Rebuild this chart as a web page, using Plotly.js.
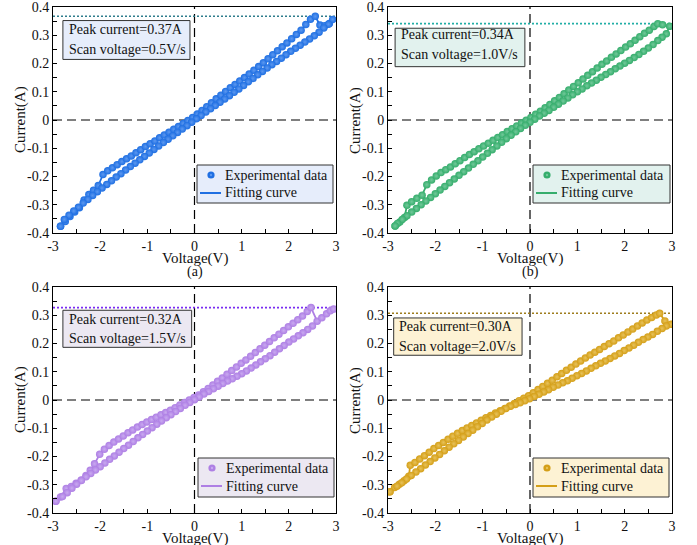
<!DOCTYPE html>
<html>
<head>
<meta charset="utf-8">
<script src="https://cdn.plot.ly/plotly-3.0.1.min.js"></script>
<style>
  html, body { margin: 0; padding: 0; background: #ffffff; }
  #chart { width: 697px; height: 545px; }
</style>
</head>
<body>
<div id="chart"></div>
<script>
// ---- Cyclic I-V sweeps at four scan rates ----

// (a) 0.5 V/s : forward branch (upper) then return branch (lower)
const voltA_fwd = [-2.84,-2.74,-2.64,-2.54,-2.44,-2.34,-2.24,-2.14,-2.04,-1.94,-1.84,-1.74,-1.64,-1.54,-1.44,-1.34,-1.24,-1.14,-1.04,-0.94,-0.84,-0.74,-0.64,-0.54,-0.44,-0.34,-0.24,-0.14,-0.04,0.06,0.16,0.26,0.36,0.46,0.56,0.66,0.76,0.86,0.96,1.06,1.16,1.26,1.36,1.46,1.56,1.66,1.76,1.86,1.96,2.06,2.16,2.26,2.36,2.46,2.56,2.66,2.76,2.86,2.93];
const currA_fwd = [-0.376,-0.359,-0.342,-0.326,-0.311,-0.283,-0.264,-0.249,-0.232,-0.193,-0.180,-0.169,-0.158,-0.147,-0.137,-0.127,-0.116,-0.105,-0.094,-0.084,-0.074,-0.063,-0.053,-0.043,-0.033,-0.023,-0.012,-0.002,0.009,0.021,0.034,0.047,0.061,0.075,0.088,0.101,0.114,0.126,0.138,0.150,0.163,0.176,0.189,0.203,0.217,0.231,0.245,0.259,0.273,0.288,0.303,0.318,0.338,0.357,0.367,0.336,0.334,0.342,0.356];
const voltA_rev = [2.84,2.74,2.64,2.54,2.44,2.34,2.24,2.14,2.04,1.94,1.84,1.74,1.64,1.54,1.44,1.34,1.24,1.14,1.04,0.94,0.84,0.74,0.64,0.54,0.44,0.34,0.24,0.14,0.04,-0.06,-0.16,-0.26,-0.36,-0.46,-0.56,-0.66,-0.76,-0.86,-0.96,-1.06,-1.16,-1.26,-1.36,-1.46,-1.56,-1.66,-1.76,-1.86,-1.96,-2.06,-2.16,-2.26,-2.36,-2.46,-2.56,-2.66,-2.76,-2.84];
const currA_rev = [0.339,0.326,0.311,0.298,0.287,0.276,0.265,0.254,0.243,0.231,0.219,0.207,0.196,0.184,0.172,0.160,0.147,0.135,0.122,0.110,0.098,0.086,0.074,0.063,0.051,0.040,0.028,0.016,0.004,-0.008,-0.020,-0.032,-0.044,-0.056,-0.068,-0.080,-0.092,-0.104,-0.117,-0.129,-0.141,-0.153,-0.165,-0.177,-0.190,-0.202,-0.215,-0.228,-0.241,-0.254,-0.267,-0.281,-0.294,-0.309,-0.322,-0.337,-0.352,-0.376];

// (b) 1.0 V/s
const voltB_fwd = [-2.85,-2.75,-2.65,-2.60,-2.50,-2.39,-2.28,-2.18,-2.08,-1.98,-1.88,-1.78,-1.68,-1.58,-1.48,-1.38,-1.28,-1.18,-1.08,-0.98,-0.88,-0.78,-0.68,-0.58,-0.48,-0.38,-0.28,-0.18,-0.08,0.02,0.12,0.22,0.32,0.42,0.52,0.62,0.72,0.82,0.92,1.02,1.12,1.22,1.32,1.42,1.52,1.62,1.72,1.82,1.92,2.02,2.12,2.22,2.32,2.42,2.52,2.62,2.70,2.80,2.95];
const currB_fwd = [-0.375,-0.361,-0.345,-0.302,-0.289,-0.277,-0.266,-0.229,-0.212,-0.198,-0.186,-0.176,-0.166,-0.155,-0.144,-0.133,-0.122,-0.112,-0.102,-0.092,-0.082,-0.072,-0.062,-0.052,-0.041,-0.031,-0.021,-0.011,-0.001,0.009,0.020,0.031,0.043,0.055,0.068,0.080,0.093,0.106,0.119,0.132,0.145,0.158,0.171,0.184,0.197,0.209,0.222,0.234,0.246,0.258,0.270,0.282,0.295,0.307,0.318,0.331,0.341,0.337,0.332];
const voltB_rev = [2.88,2.79,2.70,2.60,2.50,2.40,2.30,2.20,2.10,2.00,1.90,1.80,1.70,1.60,1.50,1.40,1.30,1.20,1.10,1.00,0.90,0.80,0.70,0.60,0.50,0.40,0.30,0.20,0.10,0.00,-0.10,-0.20,-0.30,-0.40,-0.50,-0.60,-0.70,-0.80,-0.90,-1.00,-1.10,-1.20,-1.30,-1.40,-1.50,-1.60,-1.70,-1.80,-1.90,-2.00,-2.10,-2.20,-2.30,-2.40,-2.50,-2.60,-2.70,-2.80,-2.85];
const currB_rev = [0.305,0.293,0.281,0.267,0.255,0.243,0.232,0.221,0.211,0.201,0.191,0.181,0.171,0.161,0.151,0.141,0.131,0.121,0.110,0.100,0.089,0.078,0.067,0.056,0.045,0.034,0.024,0.014,0.003,-0.008,-0.019,-0.030,-0.042,-0.054,-0.066,-0.079,-0.092,-0.105,-0.118,-0.131,-0.144,-0.157,-0.170,-0.183,-0.196,-0.209,-0.222,-0.235,-0.248,-0.261,-0.274,-0.287,-0.300,-0.313,-0.326,-0.339,-0.352,-0.366,-0.375];

// (c) 1.5 V/s
const voltC_fwd = [-2.94,-2.84,-2.72,-2.61,-2.51,-2.40,-2.30,-2.21,-2.12,-2.01,-1.91,-1.81,-1.71,-1.61,-1.51,-1.41,-1.31,-1.21,-1.11,-1.01,-0.91,-0.81,-0.71,-0.61,-0.51,-0.41,-0.31,-0.21,-0.11,-0.01,0.09,0.19,0.29,0.39,0.49,0.59,0.69,0.79,0.89,0.99,1.09,1.19,1.29,1.39,1.49,1.59,1.69,1.79,1.89,1.99,2.09,2.19,2.29,2.39,2.47,2.60,2.70,2.80,2.88,2.95];
const currC_fwd = [-0.358,-0.343,-0.313,-0.306,-0.295,-0.283,-0.267,-0.249,-0.226,-0.192,-0.174,-0.161,-0.149,-0.138,-0.127,-0.116,-0.106,-0.096,-0.087,-0.078,-0.069,-0.061,-0.052,-0.044,-0.036,-0.027,-0.018,-0.009,0.000,0.009,0.018,0.029,0.041,0.053,0.066,0.078,0.091,0.104,0.117,0.130,0.142,0.155,0.168,0.181,0.194,0.207,0.220,0.233,0.246,0.259,0.272,0.284,0.297,0.313,0.327,0.279,0.291,0.305,0.316,0.322];
const voltC_rev = [2.50,2.40,2.30,2.20,2.10,2.00,1.90,1.80,1.70,1.60,1.50,1.40,1.30,1.20,1.10,1.00,0.90,0.80,0.70,0.60,0.50,0.40,0.30,0.20,0.10,0.00,-0.10,-0.20,-0.30,-0.40,-0.50,-0.60,-0.70,-0.80,-0.90,-1.00,-1.10,-1.20,-1.30,-1.40,-1.50,-1.60,-1.70,-1.80,-1.90,-2.00,-2.10,-2.20,-2.30,-2.40,-2.50,-2.60,-2.70,-2.80,-2.94];
const currC_rev = [0.262,0.250,0.238,0.227,0.216,0.205,0.193,0.181,0.169,0.157,0.146,0.135,0.124,0.113,0.103,0.093,0.084,0.075,0.067,0.058,0.049,0.040,0.030,0.021,0.011,0.001,-0.009,-0.019,-0.030,-0.041,-0.052,-0.063,-0.074,-0.086,-0.098,-0.110,-0.122,-0.134,-0.147,-0.160,-0.172,-0.185,-0.198,-0.210,-0.223,-0.236,-0.248,-0.260,-0.272,-0.285,-0.298,-0.312,-0.328,-0.342,-0.358];

// (d) 2.0 V/s
const voltD_fwd = [-2.96,-2.86,-2.76,-2.66,-2.56,-2.53,-2.43,-2.33,-2.23,-2.13,-2.03,-1.93,-1.83,-1.73,-1.63,-1.53,-1.43,-1.33,-1.23,-1.13,-1.03,-0.93,-0.83,-0.73,-0.63,-0.53,-0.43,-0.33,-0.23,-0.13,-0.03,0.07,0.17,0.27,0.37,0.47,0.57,0.67,0.77,0.87,0.97,1.07,1.17,1.27,1.37,1.47,1.57,1.67,1.77,1.87,1.97,2.07,2.17,2.27,2.37,2.47,2.57,2.67,2.74,2.85,2.98];
const currD_fwd = [-0.325,-0.310,-0.298,-0.286,-0.270,-0.231,-0.221,-0.209,-0.197,-0.185,-0.172,-0.161,-0.150,-0.139,-0.128,-0.118,-0.108,-0.099,-0.090,-0.081,-0.072,-0.063,-0.055,-0.046,-0.038,-0.030,-0.021,-0.012,-0.003,0.006,0.015,0.026,0.037,0.048,0.059,0.070,0.082,0.094,0.105,0.116,0.127,0.138,0.149,0.159,0.169,0.179,0.189,0.199,0.209,0.220,0.230,0.241,0.251,0.262,0.273,0.283,0.292,0.301,0.307,0.280,0.268];
const voltD_rev = [2.88,2.79,2.69,2.59,2.49,2.39,2.29,2.19,2.09,1.99,1.89,1.79,1.69,1.59,1.49,1.39,1.29,1.19,1.09,0.99,0.89,0.79,0.69,0.59,0.49,0.39,0.29,0.19,0.09,-0.01,-0.11,-0.21,-0.31,-0.41,-0.51,-0.61,-0.71,-0.81,-0.91,-1.01,-1.11,-1.21,-1.31,-1.41,-1.51,-1.61,-1.71,-1.81,-1.91,-2.01,-2.11,-2.21,-2.31,-2.41,-2.51,-2.61,-2.71,-2.81,-2.96];
const currD_rev = [0.262,0.253,0.243,0.232,0.223,0.214,0.204,0.194,0.184,0.175,0.165,0.156,0.147,0.138,0.130,0.121,0.112,0.103,0.094,0.086,0.077,0.068,0.061,0.053,0.045,0.036,0.028,0.020,0.012,0.004,-0.003,-0.010,-0.016,-0.022,-0.030,-0.040,-0.050,-0.060,-0.071,-0.083,-0.095,-0.107,-0.119,-0.131,-0.143,-0.155,-0.167,-0.180,-0.193,-0.205,-0.218,-0.230,-0.243,-0.255,-0.267,-0.280,-0.293,-0.305,-0.325];

// labels
const peakLabels = ['Peak current=0.37A', 'Peak current=0.34A', 'Peak current=0.32A', 'Peak current=0.30A'];
const scanLabels = ['Scan voltage=0.5V/s', 'Scan voltage=1.0V/s', 'Scan voltage=1.5V/s', 'Scan voltage=2.0V/s'];
const seriesNames = ['Experimental data', 'Fitting curve'];
const panelTags = ['(a)', '(b)'];
const xTitle = 'Voltage(V)';
const yTitle = 'Current(A)';
const xTickVals = [-3, -2, -1, 0, 1, 2, 3];
const xTickText = ['-3', '-2', '-1', '0', '1', '2', '3'];
const yTickVals = [-0.4, -0.3, -0.2, -0.1, 0, 0.1, 0.2, 0.3, 0.4];
const yTickText = ['-0.4', '-0.3', '-0.2', '-0.1', '0', '0.1', '0.2', '0.3', '0.4'];

// ---- styling ----
const FONT = 'Liberation Serif, Times New Roman, serif';
const INK = '#111111';
const W = 697, H = 545;
const sweeps = [
  [voltA_fwd, currA_fwd, voltA_rev, currA_rev],
  [voltB_fwd, currB_fwd, voltB_rev, currB_rev],
  [voltC_fwd, currC_fwd, voltC_rev, currC_rev],
  [voltD_fwd, currD_fwd, voltD_rev, currD_rev]
];
const style = [
  { main: '#1f6fe2', glow: '#5c98f0', peak: '#2e7d8c', fill: '#e6edfb' },
  { main: '#35ad6c', glow: '#72c99a', peak: '#22aea6', fill: '#e2f2ee' },
  { main: '#ae7fe4', glow: '#c9a9f0', peak: '#7a2cf2', fill: '#ece8f2' },
  { main: '#d49f18', glow: '#e8c25a', peak: '#9e7d1d', fill: '#fdf2d4' }
];
// plot areas in pixels: [left, right, top, bottom]
const boxesPx = [
  [53, 336, 7, 233],
  [388, 672, 7, 233],
  [53, 336, 287, 513],
  [388, 672, 287, 513]
];
// label boxes in axis-domain fractions: [x0, x1, y0, y1, textX, line1Y, line2Y]
const noteBox = [
  [0.035, 0.484, 0.768, 0.940, 0.049, 0.900, 0.810],
  [0.025, 0.482, 0.736, 0.906, 0.039, 0.877, 0.791],
  [0.035, 0.490, 0.733, 0.897, 0.048, 0.856, 0.772],
  [0.020, 0.472, 0.698, 0.863, 0.033, 0.826, 0.738]
];
// key boxes in pixels: [left, right, top, bottom]
const keyPx = [
  [197, 333, 165, 203],
  [533, 670, 165, 203],
  [198, 334, 458, 497],
  [533, 669, 458, 497]
];

const px = v => v / W;          // horizontal pixel -> paper
const py = v => 1 - v / H;      // vertical pixel -> paper

const data = [];
const layout = {
  width: W, height: H,
  margin: { l: 0, r: 0, t: 0, b: 0 },
  paper_bgcolor: '#ffffff',
  plot_bgcolor: '#ffffff',
  font: { family: FONT, size: 14, color: INK },
  showlegend: false,
  shapes: [],
  annotations: []
};

function text(x, y, t, extra) {
  return Object.assign({ xref: 'paper', yref: 'paper', x: x, y: y, showarrow: false, text: t,
    xanchor: 'center', yanchor: 'middle', font: { family: FONT, size: 14, color: INK } }, extra || {});
}

sweeps.forEach((s, k) => {
  const sfx = k === 0 ? '' : String(k + 1);
  const xs = s[0].concat(s[2]);
  const ys = s[1].concat(s[3]);
  const st = style[k];

  data.push({
    type: 'scatter', mode: 'lines', x: xs, y: ys,
    xaxis: 'x' + sfx, yaxis: 'y' + sfx, name: seriesNames[1],
    line: { color: st.main, width: 1.8 }, hoverinfo: 'skip'
  });
  data.push({
    type: 'scatter', mode: 'markers', x: xs, y: ys,
    xaxis: 'x' + sfx, yaxis: 'y' + sfx, name: seriesNames[0],
    marker: { symbol: 'circle', size: 7.5, color: st.main,
              gradient: { type: 'radial', color: st.glow }, line: { width: 0 } }
  });

  const b = boxesPx[k];
  const axisCommon = {
    ticks: 'inside', ticklen: 4, tickwidth: 1, tickcolor: '#000',
    showline: true, mirror: true, linecolor: '#000', linewidth: 1,
    showgrid: false, zeroline: false, ticklabeloverflow: 'allow',
    tickfont: { family: FONT, size: 14, color: INK }
  };
  layout['xaxis' + sfx] = Object.assign({
    domain: [px(b[0]), px(b[1])], anchor: 'y' + sfx,
    range: [-3, 3], autorange: false,
    tickmode: 'array', tickvals: xTickVals, ticktext: xTickText,
    minor: { tickmode: 'linear', tick0: 0, dtick: 0.5, ticks: 'inside', ticklen: 4, tickcolor: '#000', showgrid: false }
  }, axisCommon);
  layout['yaxis' + sfx] = Object.assign({
    domain: [py(b[3]), py(b[2])], anchor: 'x' + sfx,
    range: [-0.4, 0.4], autorange: false,
    tickmode: 'array', tickvals: yTickVals, ticktext: yTickText,
    minor: { tickmode: 'linear', tick0: 0, dtick: 0.05, ticks: 'inside', ticklen: 4, tickcolor: '#000', showgrid: false }
  }, axisCommon);

  // axis titles
  layout.annotations.push(text(px((b[0] + b[1]) / 2), py(b[3] + 25), xTitle,
    { font: { family: FONT, size: 15, color: INK } }));
  layout.annotations.push(text(px(b[0] - 33), py((b[2] + b[3]) / 2), yTitle,
    { textangle: -90, font: { family: FONT, size: 15, color: INK } }));

  // dashed zero cross-hair
  layout.shapes.push({ type: 'line', layer: 'below', xref: 'x' + sfx + ' domain', x0: 0, x1: 1,
    yref: 'y' + sfx, y0: 0, y1: 0, line: { color: '#000', width: 1.2, dash: '9px,5px' } });
  layout.shapes.push({ type: 'line', layer: 'below', xref: 'x' + sfx, x0: 0, x1: 0,
    yref: 'y' + sfx + ' domain', y0: 0, y1: 1, line: { color: '#000', width: 1.2, dash: '9px,5px' } });

  // dotted line at the peak current of the sweep
  const peak = Math.max.apply(null, ys);
  layout.shapes.push({ type: 'line', layer: 'below', xref: 'x' + sfx + ' domain', x0: 0, x1: 1,
    yref: 'y' + sfx, y0: peak, y1: peak, line: { color: st.peak, width: 1.6, dash: '2px,2px' } });

  // info box
  const nb = noteBox[k];
  layout.shapes.push({ type: 'rect', layer: 'above', xref: 'x' + sfx + ' domain', yref: 'y' + sfx + ' domain',
    x0: nb[0], x1: nb[1], y0: nb[2], y1: nb[3], fillcolor: st.fill, line: { color: '#333', width: 1 } });
  layout.annotations.push({ xref: 'x' + sfx + ' domain', yref: 'y' + sfx + ' domain', x: nb[4], y: nb[5],
    xanchor: 'left', yanchor: 'middle', showarrow: false, text: peakLabels[k],
    font: { family: FONT, size: 14, color: INK } });
  layout.annotations.push({ xref: 'x' + sfx + ' domain', yref: 'y' + sfx + ' domain', x: nb[4], y: nb[6],
    xanchor: 'left', yanchor: 'middle', showarrow: false, text: scanLabels[k],
    font: { family: FONT, size: 14, color: INK } });

  // key: framed box with a dot sample and a line sample
  const kp = keyPx[k];
  const row1 = kp[2] + 10, row2 = kp[2] + 28;
  layout.shapes.push({ type: 'rect', layer: 'above', xref: 'paper', yref: 'paper',
    x0: px(kp[0]), x1: px(kp[1]), y0: py(kp[3]), y1: py(kp[2]),
    fillcolor: st.fill, line: { color: '#333', width: 1 } });
  layout.shapes.push({ type: 'circle', layer: 'above', xref: 'paper', yref: 'paper',
    x0: px(kp[0] + 14 - 3.6), x1: px(kp[0] + 14 + 3.6), y0: py(row1 + 3.6), y1: py(row1 - 3.6),
    fillcolor: st.main, line: { width: 0 } });
  layout.shapes.push({ type: 'circle', layer: 'above', xref: 'paper', yref: 'paper',
    x0: px(kp[0] + 14 - 1.2), x1: px(kp[0] + 14 + 1.2), y0: py(row1 + 1.2), y1: py(row1 - 1.2),
    fillcolor: st.glow, line: { width: 0 } });
  layout.shapes.push({ type: 'line', layer: 'above', xref: 'paper', yref: 'paper',
    x0: px(kp[0] + 3), x1: px(kp[0] + 24), y0: py(row2), y1: py(row2),
    line: { color: st.main, width: 2 } });
  layout.annotations.push(text(px(kp[0] + 26), py(row1), seriesNames[0], { xanchor: 'left' }));
  layout.annotations.push(text(px(kp[0] + 26), py(row2), seriesNames[1], { xanchor: 'left' }));
});

// panel tags under the top row
panelTags.forEach((t, k) => {
  const b = boxesPx[k];
  layout.annotations.push(text(px((b[0] + b[1]) / 2), py(271.5), t));
});

Plotly.newPlot('chart', data, layout, { staticPlot: true, displayModeBar: false });
</script>
</body>
</html>
